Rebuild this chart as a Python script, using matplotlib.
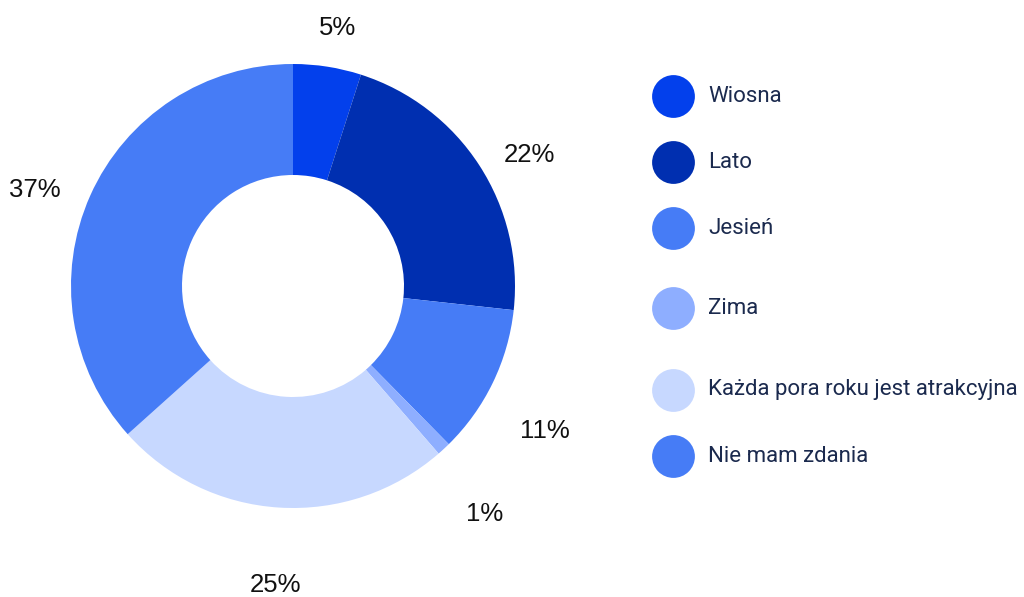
import numpy as np
from matplotlib import pyplot as plt

# dane
kategorie = ["Wiosna", "Lato", "Jesień", "Zima",
             "Każda pora roku jest atrakcyjna", "Nie mam zdania"]
wartosci = [5, 22, 11, 1, 25, 37]
etykiety = ["5%", "22%", "11%", "1%", "25%", "37%"]
kolory = ["#0340EC", "#002FB0", "#467CF6", "#8EAEFF", "#C7D8FF", "#467CF6"]

plt.rcParams['font.family'] = ['Roboto', 'DejaVu Sans']

fig = plt.figure(figsize=(10.24, 5.97), dpi=100)
ax = fig.add_axes([0, 0, 1, 1])

# srodek i promien w pikselach
cx, cy, r = 293, 597 - 286, 222
ax.pie(wartosci, colors=kolory, startangle=90, counterclock=False,
       center=(cx, cy), radius=r, frame=True,
       wedgeprops=dict(width=r * 0.5, linewidth=0))
ax.set_xlim(0, 1024)
ax.set_ylim(0, 597)
ax.set_aspect('equal')
ax.axis('off')

# etykiety procentowe (polozenie: kat od gory zgodnie z zegarem, odleglosc)
kat_etyk = [9.7, 61.0, 119.8, 140.0, 183.3, 290.5]
odl_etyk = [1.18, 1.22, 1.31, 1.34, 1.35, 1.24]
for tekst, k, d in zip(etykiety, kat_etyk, odl_etyk):
    kat = np.deg2rad(90 - k)
    ax.text(cx + d * r * np.cos(kat), cy + d * r * np.sin(kat), tekst,
            ha='center', va='center', fontsize=18.5, color='#111111',
            family=['Liberation Sans', 'DejaVu Sans'])

# legenda
leg_y = [96, 162, 228, 308, 390, 456]
for y, k, kol in zip(leg_y, kategorie, kolory):
    ax.scatter([673], [597 - y], s=950, color=kol, linewidths=0)
    ax.text(708, 597 - y, k, ha='left', va='center', fontsize=16,
            color='#1B2A4E')

plt.savefig("out.png", dpi=100)
